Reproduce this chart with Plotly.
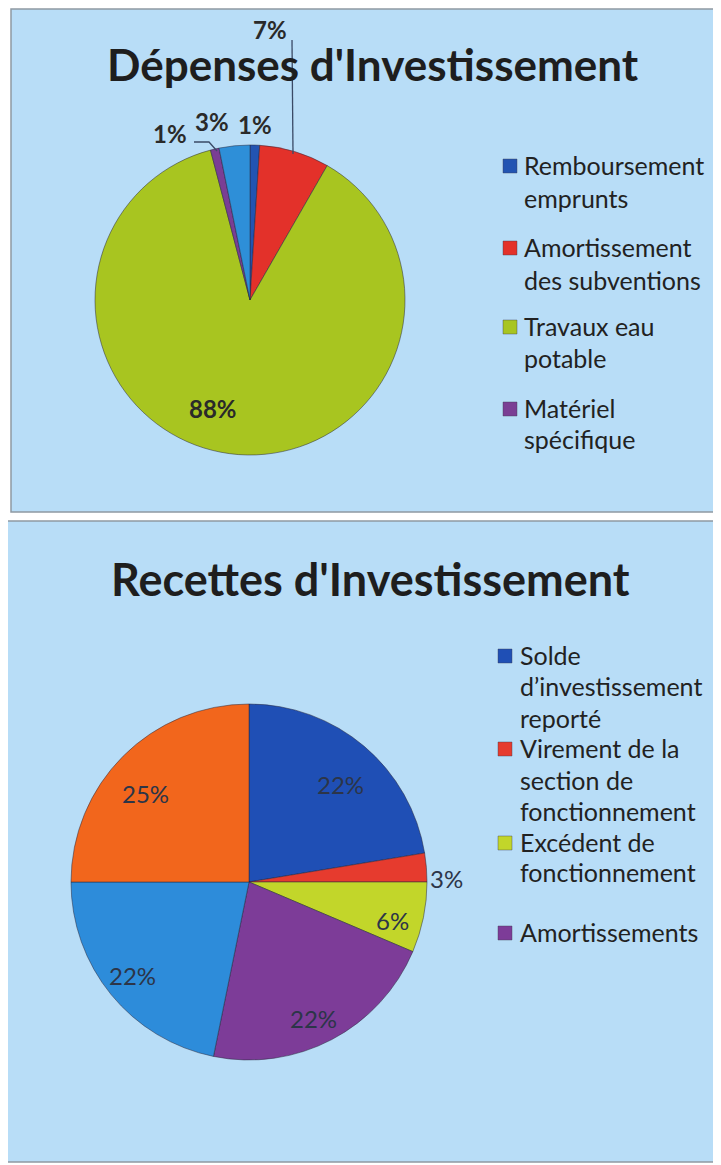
import plotly.graph_objects as go

# The page body has an 8px margin, so the figure is drawn 8px in from the
# window's top-left corner; all reference pixel positions are offset by it.
OFF = 8
W, H = 721 - OFF, 1165 - OFF


def px(x):
    return (x - OFF) / W


def py(y):
    return 1 - (y - OFF) / H


# ---------------- data ----------------
dep_title = "Dépenses d'Investissement"
dep_labels = ["Remboursement emprunts", "Amortissement des subventions",
              "Travaux eau potable", "Matériel spécifique", "Autres dépenses"]
dep_values = [1.0, 7.3, 87.6, 0.9, 3.2]
dep_colors = ["#2254B2", "#E3312A", "#A8C520", "#7A3E94", "#2E8FD8"]
dep_legend = [["Remboursement", "emprunts"],
              ["Amortissement", "des subventions"],
              ["Travaux eau", "potable"],
              ["Matériel", "spécifique"]]

rec_title = "Recettes d'Investissement"
rec_labels = ["Solde d’investissement reporté", "Virement de la section de fonctionnement",
              "Excédent de fonctionnement", "Amortissements", "Autres recettes 1", "Autres recettes 2"]
rec_values = [22.4, 2.6, 6.4, 21.8, 21.8, 25.0]
rec_colors = ["#1F4FB5", "#E63B2E", "#C2D62A", "#7D3C98", "#2D8CDA", "#F2661C"]
rec_legend = [["Solde", "d’investissement", "reporté"],
              ["Virement de la", "section de", "fonctionnement"],
              ["Excédent de", "fonctionnement"],
              ["Amortissements"]]

BG = "#B8DDF7"
TXT = "#222222"
FONT = "Lato"

fig = go.Figure()

# ---------------- pies ----------------
fig.add_trace(go.Pie(
    labels=dep_labels, values=dep_values, sort=False, direction="clockwise",
    rotation=0, textinfo="none", showlegend=False,
    marker=dict(colors=dep_colors, line=dict(color="rgba(40,40,60,0.5)", width=1)),
    domain=dict(x=[px(95), px(405)], y=[py(455), py(145)]),
))
fig.add_trace(go.Pie(
    labels=rec_labels, values=rec_values, sort=False, direction="clockwise",
    rotation=0, textinfo="none", showlegend=False,
    marker=dict(colors=rec_colors, line=dict(color="rgba(40,40,60,0.5)", width=1)),
    domain=dict(x=[px(71), px(427)], y=[py(1060), py(704)]),
))

shapes = []
annotations = []

# panels
shapes.append(dict(type="rect", xref="paper", yref="paper", layer="below",
                   x0=px(11), x1=px(730), y0=py(512), y1=py(9),
                   fillcolor=BG, line=dict(color="#8E99A3", width=1.5)))
shapes.append(dict(type="rect", xref="paper", yref="paper", layer="below",
                   x0=px(7), x1=px(730), y0=py(1162), y1=py(521),
                   fillcolor=BG, line=dict(color="#8E99A3", width=1.5)))

# titles
annotations.append(dict(text="<b>%s</b>" % dep_title, x=px(373), y=py(64), xref="paper", yref="paper",
                        showarrow=False, xanchor="center", yanchor="middle",
                        font=dict(family=FONT, size=44, color="#1E1E1E")))
annotations.append(dict(text="<b>%s</b>" % rec_title, x=px(371), y=py(579), xref="paper", yref="paper",
                        showarrow=False, xanchor="center", yanchor="middle",
                        font=dict(family=FONT, size=45, color="#1E1E1E")))


def pct(values):
    s = sum(values)
    return ["%d%%" % round(v / s * 100) for v in values]


# pie data labels (text from data)
dep_pct = pct(dep_values)
dep_lab_pos = [(255, 124), (270, 29), (213, 408), (170, 133), (212, 122)]
for t, (x, y) in zip(dep_pct, dep_lab_pos):
    annotations.append(dict(text="<b>%s</b>" % t, x=px(x), y=py(y), xref="paper", yref="paper",
                            showarrow=False, xanchor="center", yanchor="middle",
                            font=dict(family=FONT, size=24, color="#2A2A2A")))

rec_pct = pct(rec_values)
rec_lab_pos = [(340, 785), (447, 878), (392, 920), (313, 1018), (132, 975), (145, 793)]
for t, (x, y) in zip(rec_pct, rec_lab_pos):
    annotations.append(dict(text=t, x=px(x), y=py(y), xref="paper", yref="paper",
                            showarrow=False, xanchor="center", yanchor="middle",
                            font=dict(family=FONT, size=24, color="#2C3548")))

# leader lines (top pie)
shapes.append(dict(type="line", xref="paper", yref="paper",
                   x0=px(292), y0=py(40), x1=px(293), y1=py(154),
                   line=dict(color="#3A4A66", width=1.3)))
shapes.append(dict(type="path", xref="paper", yref="paper",
                   path="M %f %f L %f %f L %f %f" % (px(194), py(142), px(209), py(142), px(217), py(151)),
                   line=dict(color="#3A4A66", width=1.3)))


# manual legends
def add_legend(items, colors, x_sq, x_txt, line_ys, size):
    for lines, col, ys in zip(items, colors, line_ys):
        y0 = ys[0]
        shapes.append(dict(type="rect", xref="paper", yref="paper",
                           x0=px(x_sq - 7), x1=px(x_sq + 7), y0=py(y0 + 8), y1=py(y0 - 6),
                           fillcolor=col, line=dict(color="rgba(60,60,80,0.5)", width=0.8)))
        for ln, y in zip(lines, ys):
            annotations.append(dict(text=ln, x=px(x_txt), y=py(y), xref="paper", yref="paper",
                                    showarrow=False, xanchor="left", yanchor="middle",
                                    font=dict(family=FONT, size=size, color=TXT)))


add_legend(dep_legend, dep_colors, 510, 522,
           [[165, 198], [247, 280], [326, 358], [408, 439]], 25)
add_legend(rec_legend, rec_colors, 505, 518,
           [[655, 686, 718], [748, 780, 811], [842, 872], [932]], 25)

fig.update_layout(
    width=W, height=H,
    margin=dict(l=0, r=0, t=0, b=0),
    paper_bgcolor="white",
    plot_bgcolor="white",
    shapes=shapes,
    annotations=annotations,
    showlegend=False,
)

fig.write_html("out.html")
